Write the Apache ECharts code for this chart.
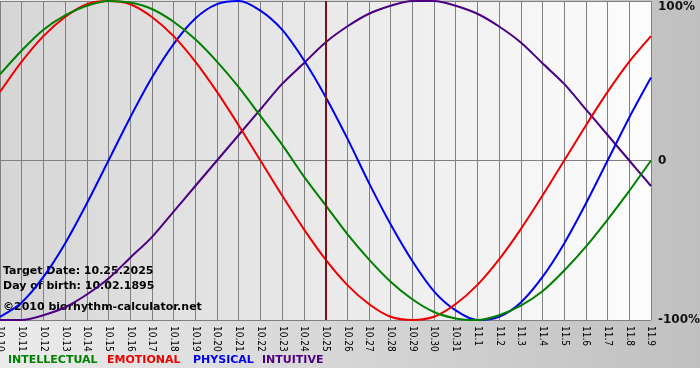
<!DOCTYPE html>
<html>
<head>
<meta charset="utf-8">
<script src="https://cdn.jsdelivr.net/npm/echarts@6/dist/echarts.min.js"></script>
<style>
html,body{margin:0;padding:0;background:#fff;}
#chart{width:700px;height:380px;}
</style>
</head>
<body>
<div id="chart"></div>
<script>
var days = ['10.10','10.11','10.12','10.13','10.14','10.15','10.16','10.17','10.18','10.19','10.20','10.21','10.22','10.23','10.24','10.25','10.26','10.27','10.28','10.29','10.30','10.31','11.1','11.2','11.3','11.4','11.5','11.6','11.7','11.8','11.9'];
var intellectual = [54,69,82,91,97,100,99,95,87,76,62,46,28,10,-10,-28,-46,-62,-76,-87,-95,-99,-100,-97,-91,-82,-69,-54,-37,-19,0];
var emotional = [43,62,78,90,98,100,98,90,78,62,43,22,0,-22,-43,-62,-78,-90,-98,-100,-98,-90,-78,-62,-43,-22,0,22,43,62,78];
var physical = [-98,-89,-73,-52,-27,0,27,52,73,89,98,100,94,82,63,40,14,-14,-40,-63,-82,-94,-100,-98,-89,-73,-52,-27,0,27,52];
var intuitive = [-100,-100,-97,-92,-84,-74,-61,-48,-32,-16,0,16,32,48,61,74,84,92,97,100,100,97,92,84,74,61,48,32,16,0,-16];
var targetDay = '10.25';
var yTicks = {'100':'100%','0':'0','-100':'-100%'};
var legendNames = ['INTELLECTUAL','EMOTIONAL','PHYSICAL','INTUITIVE'];
var infoLines = ['Target Date: 10.25.2025','Day of birth: 10.02.1895','\u00a92010 biorhythm-calculator.net'];

var colors = ['#008000','#ee0000','#0000ee','#4b0082'];
var chart = echarts.init(document.getElementById('chart'), null, {renderer:'canvas'});

function mkSeries(name, data, color, extra){
  var s = {name:name, type:'line', data:data, smooth:0.3, showSymbol:false, symbol:'none',
    lineStyle:{color:color, width:2}, itemStyle:{color:color}, z:3};
  if (extra) for (var k in extra) s[k]=extra[k];
  return s;
}

var legendX = [8,107,193,262];
var graphics = [
  {type:'rect', z:-20, silent:true, shape:{x:0,y:0,width:700,height:368},
   style:{fill:{type:'linear',x:0,y:0,x2:1,y2:0,colorStops:[{offset:0,color:'#ebebeb'},{offset:1,color:'#c0c0c0'}]}}},
  {type:'rect', z:-10, silent:true, shape:{x:0,y:1,width:651,height:319},
   style:{fill:{type:'linear',x:0,y:0,x2:1,y2:0,colorStops:[{offset:0,color:'#d6d6d6'},{offset:1,color:'#fdfdfd'}]}}}
];
var infoY = [271,286,307];
infoLines.forEach(function(t,i){
  graphics.push({type:'text', z:1, left:3, top:infoY[i]-5, silent:true,
    style:{text:t, fill:'#000', font:'bold 11px "DejaVu Sans"'}});
});
legendNames.forEach(function(t,i){
  graphics.push({type:'text', z:1, left:legendX[i], top:355, silent:true,
    style:{text:t, fill:colors[i], font:'bold 11px "DejaVu Sans"'}});
});

chart.setOption({
  animation:false,
  backgroundColor:'#ffffff',
  grid:{left:0, right:49, top:1, bottom:60, containLabel:false, outerBoundsMode:'none'},
  graphic:graphics,
  xAxis:{type:'category', data:days, boundaryGap:false,
    axisLine:{show:true, lineStyle:{color:'#808080', width:1}},
    axisTick:{show:true, length:3, interval:0, lineStyle:{color:'#808080'}},
    axisLabel:{interval:0, rotate:-90, margin:6, color:'#000', fontSize:10, fontFamily:'"DejaVu Sans Condensed"', hideOverlap:false},
    splitLine:{show:true, interval:0, lineStyle:{color:'#808080', width:1}}
  },
  yAxis:{type:'value', min:-100, max:100, interval:100, position:'right',
    axisLine:{show:false}, axisTick:{show:false},
    axisLabel:{margin:7, color:'#111', fontSize:12, fontWeight:'bold', fontFamily:'"DejaVu Sans"',
      formatter:function(v){ var s=yTicks[String(v)]; return v===100 ? '{t|'+s+'}' : s; },
      rich:{t:{fontSize:12, fontWeight:'bold', fontFamily:'"DejaVu Sans"', color:'#111', padding:[12,0,0,0]}}
    },
    splitLine:{show:true, lineStyle:{color:'#808080', width:1}}
  },
  series:[
    mkSeries(legendNames[3], intuitive, colors[3]),
    mkSeries(legendNames[2], physical, colors[2]),
    mkSeries(legendNames[1], emotional, colors[1]),
    mkSeries(legendNames[0], intellectual, colors[0], {
      markLine:{silent:true, symbol:'none', label:{show:false}, animation:false,
        lineStyle:{color:'#7a1414', width:2, type:'solid'}, data:[{xAxis:targetDay}]}
    })
  ]
});
</script>
</body>
</html>
